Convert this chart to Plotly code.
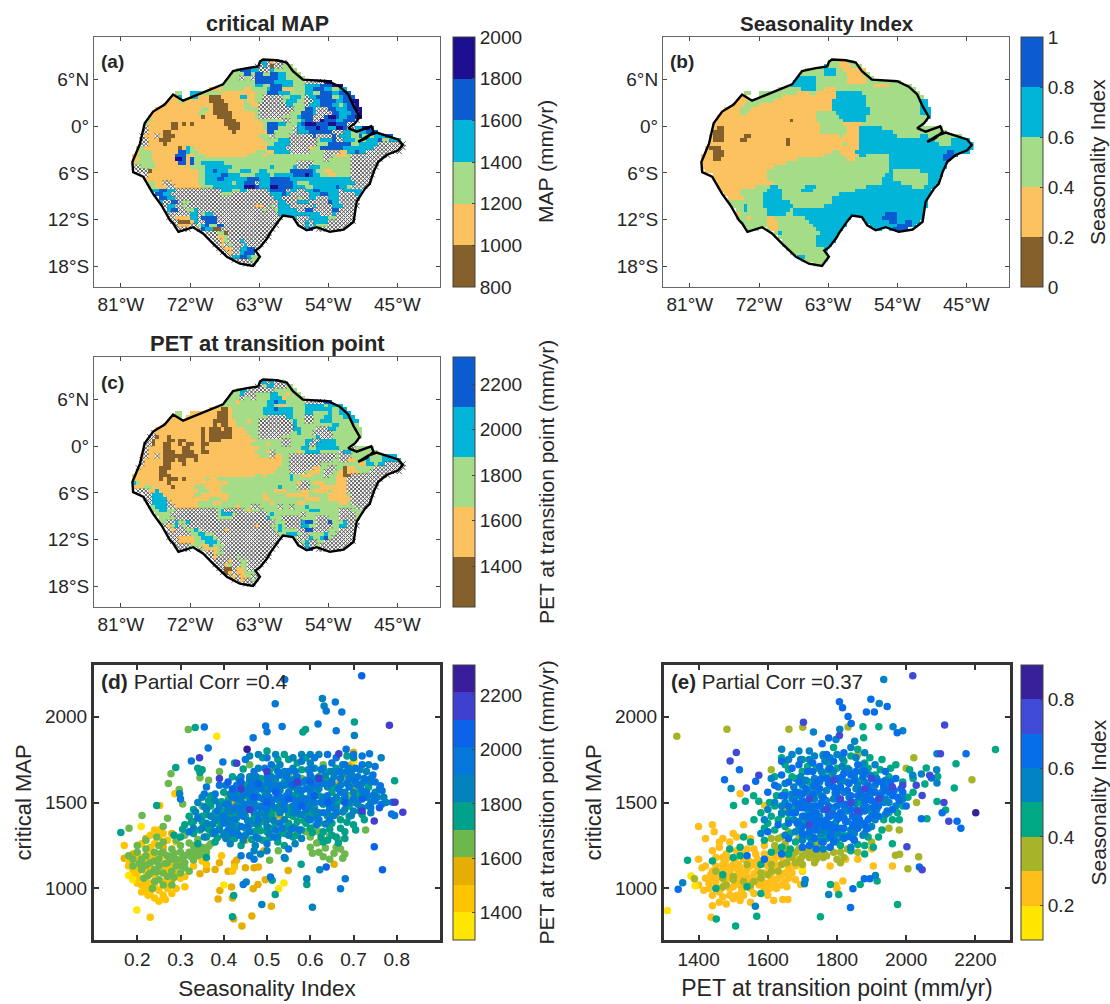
import plotly.graph_objects as go

# ---------- map grids: 0.5 degree cells, run-length rows "start-column + class" ----------
# b brown, o orange, g green, c cyan, u blue, n navy, x not significant (hatched), . outside
LON_WEST = -80.0
LAT_NORTH = 8.5
CELL = 0.5
N_COLS = 72

map_critical = [
"34c 36x 37o 38x 41.", "33x 35c 36x 37b 38x 40g 43.", "28g 29u 32c 34x 37c 38g 44.",
"27g 30u 32g 33u 35g 37u 39c 41g 45.", "26g 29x 30g 32x 33u 39c 41g 46.", "25g 33u 38c 43g 46x 51n 53.",
"24g 33c 35g 37u 40c 43g 46c 50u 53n 56.", "21o 24g 30o 32g 36c 37u 40o 43g 46c 48u 51c 53g 55c 57.",
"12g 14. 16c 19g 22g 24o 33g 36u 39c 42g 46c 48g 50u 53c 55u 58.",
"11o 13c 14. 16c 18o 21b 24o 29c 31o 33g 35x 40g 42c 45g 46x 47c 49u 53g 55c 56u 59.",
"10o 13g 15o 21b 25o 30g 31o 33g 35x 40g 41c 44g 46x 48c 50u 54c 56u 58n 60.",
"9o 22b 26o 30g 32o 34x 41c 43g 46x 47c 50u 53c 55g 56c 57u 59n 60.",
"7o 19g 21o 22b 26o 30g 33g 34x 42x 43g 46u 48c 49x 52u 54c 57u 59n 61.",
"6o 18g 20o 22b 27o 33g 34x 41x 42g 45u 48c 49x 52x 53u 55c 58u 60n 61.",
"5o 19b 20o 23b 27o 33g 34x 40g 44c 45u 48x 51u 52n 54u 55c 57u 59n 61.",
"5g 6o 25b 28o 34g 40x 42g 45c 46u 48x 50n 51u 54c 56u 59x 60.",
"4g 5o 11b 13o 14b 15o 16b 17o 25b 26b 29o 35g 36u 39c 41g 44c 45u 46n 49u 52n 54u 57x 59.",
"4x 5o 11b 13o 26b 29o 35g 36u 39g 43x 44c 46u 49n 50u 52c 54n 56u 57x 59c 61n 63u 64.",
"4x 5o 9b 11o 27b 28o 36u 38g 43x 44c 47u 53x 55x 56c 58g 60c 62u 65.",
"3x 4o 7x 8o 9b 12o 34g 37x 38g 42x 48u 49x 53u 54x 55c 58g 60u 61g 64c 67u 69.",
"3x 5o 8b 11o 35g 39c 42x 49g 50c 53u 54x 56c 59g 62c 65u 66g 68c 71.",
"3x 5o 9b 10o 35o 36g 38c 42x 49g 52u 58g 60c 65x 72.",
"2g 4o 13b 14o 15c 16g 17o 35o 36c 41x 47o 48g 50u 56c 60c 64x 72.",
"2o 3g 6o 13u 15c 16g 18o 33g 36o 38c 42x 47g 51x 53x 55o 57c 59u 60c 62x 71.",
"1o 2g 6o 12u 15o 17g 20o 31g 35o 36g 51x 53g 54o 57g 58x 68.",
"1o 3g 6o 12n 14u 15o 16u 17g 30g 51x 52g 58x 66.",
"1o 2g 7o 13u 15o 16u 17g 19c 25g 38g 44x 48g 58x 65.",
"1x 3g 7o 16g 20c 27g 35g 37c 38g 43c 44x 47c 50g 58x 65.",
"2x 5b 6o 18g 20c 22u 23c 26g 29c 32g 34c 36g 42u 48c 49g 51o 53g 58x 64.",
"4x 5o 18g 20c 24u 26c 29g 33c 37g 38c 43u 46n 47u 48c 50g 52o 54g 58x 64.",
"4o 18g 20c 23u 25c 31u 34c 37u 42c 58x 63.",
"5g 7o 9x 11o 18g 20c 27g 28c 30u 33x 34c 37u 43c 44g 47c 58c 59x 63.",
"5g 7o 10x 12o 19g 22c 30n 33u 34c 37n 39u 43c 46g 48c 54u 55c 57g 58x 62.",
"6c 8u 10c 12x 24c 27g 29c 31x 36c 37u 41x 42c 44x 46c 48u 50c 55x 56c 61.",
"7u 9c 11x 24g 27x 36x 37c 40u 41c 42x 45x 47c 50u 52c 55x 59c 61.",
"8u 10c 12x 37x 38c 40x 44g 45x 47c 49x 52c 55x 60.",
"8c 9x 11u 13x 14g 16x 37x 39c 41x 44c 47x 49x 52u 53c 55x 60.",
"9x 10c 12x 14g 15x 33o 35x 37g 38x 39c 42x 48c 49x 53c 56x 60.",
"10c 11u 13x 15g 17c 18x 35g 36x 38g 39c 44x 46u 48x 53u 55x 59.",
"10x 13x 16c 18x 19g 20c 22x 39c 45c 47c 50x 53c 54x 59.",
"10x 12o 16c 18x 19u 23x 40. 43c 44x 47c 50c 52g 54x 59.",
"11x 13b 16o 17c 18x 20u 23x 39. 44x 46c 47x 48c 51c 52x 59.",
"12x 13o 16x 18g 19c 20u 21g 23u 25x 39. 45x 46c 47x 48c 49g 52x 57.",
"13x 16. 18x 19u 20c 22b 24x 38. 46c 47u 48. 49x 55.",
"20x 23g 25b 26x 37.", "21x 23o 25g 26x 37.", "22x 24o 25g 26x 29c 30x 36.",
"22x 24o 25x 26g 27x 30c 31x 35.", "23x 25o 27x 29c 31u 33x 34.", "24x 26o 27x 29c 30u 33.",
"26x 27c 29u 31c 32g 34.", "27x 32g 34.", "30x 33.",
]

map_seasonality = [
"34g 37o 39g 41.", "33c 34g 37o 40g 43.", "28g 32g 33c 36g 38o 42o 44.", "27g 33c 36g 39o 43g 45.",
"26c 31g 39o 44g 46.", "25c 31g 39o 44g 53.", "24c 31g 46o 50g 56.", "21g 27c 31g 33o 36g 57.",
"12g 14. 16g 26o 29g 31o 36c 43g 58.", "11o 13. 16g 22o 35o 36c 44g 59.", "10o 13g 16g 20o 34o 35c 44g 58c 60.",
"9o 12g 16o 35c 44g 58c 60.", "7o 11g 14o 33o 35c 45g 58c 61.", "6o 11g 13o 31g 36c 45g 58c 61.",
"5o 31g 37c 44g 60c 61.", "5o 24b 25o 31g 38c 44g 60.", "4o 32g 38o 41o 43g 59.", "4o 5b 7o 32g 39o 42c 48g 64.",
"4b 7o 32g 39o 42c 49c 51g 65.", "3o 4b 7o 12b 14o 37g 38o 42c 52g 58c 60g 69.",
"3o 4b 7o 11b 13o 23b 24o 39o 42c 52c 62g 66c 71.", "3o 23b 24o 38g 39o 42c 62c 63g 66c 72.",
"2o 3b 6o 38o 42c 72.", "2o 4b 7o 33o 35g 37o 41c 65u 67c 71.", "1o 4b 7o 30o 33g 38o 42c 44g 50c 64u 68.",
"1o 4b 6o 26g 38g 39o 41g 50c 64u 66.", "1o 23g 50c 65.", "1o 20g 50c 65.", "2o 18g 50c 51g 58c 64.",
"4o 18g 49c 51g 60c 64.", "4o 18g 48c 51g 60c 63.", "5o 20g 48c 53g 60c 63.",
"5o 15g 19c 21g 28c 31g 44c 56g 59c 62.", "6o 11g 18c 22g 27c 30g 41c 61.", "7o 11g 17c 22g 37c 61.",
"8o 12g 17c 22g 33g 35c 60.", "8g 17c 24g 35c 60.", "9g 12c 13g 17c 25g 33c 60.",
"10g 12c 13g 18c 24g 25c 49c 59.", "10o 11g 18c 23g 25c 49u 52c 59.", "10g 13o 14g 18o 20g 28c 40. 43c 48u 52c 59.",
"11g 18o 21g 29c 39. 44c 50u 52c 54u 56c 58.", "12g 18o 21g 30c 39. 45c 50c 52u 56c 57.",
"13g 16. 18g 19o 21g 31c 38. 46c 48. 50c 51u 55.", "20g 21c 22g 32c 37.", "21g 31c 36.", "22g 31c 36.",
"22g 31c 35.", "23g 33c 34.", "24g 34.", "26c 28g 34.", "27g 34.", "30g 33.",
]

map_pet = [
"34c 36x 37c 38x 40g 41.", "33x 35g 36c 38x 41g 43.", "28g 29c 31x 36x 38g 44.", "27g 29c 30x 33g 37c 39g 41o 42g 45.",
"26g 29x 30g 32x 33g 37c 40o 41g 46.", "25g 28o 29g 35g 36c 38u 39c 41g 46x 51u 53.",
"24g 35g 36c 38g 39o 41g 46c 51g 52c 56.", "21o 24b 26o 27g 35c 38u 39c 43g 46c 50c 53g 55c 57.",
"12g 14. 16o 23b 26o 27g 35c 43g 46c 48g 52c 53g 55c 58.", "11o 13g 14. 15o 23b 26o 27g 35g 36x 41c 43g 46x 48g 51c 53g 56c 59.",
"10o 22b 26o 28g 31o 32g 34x 42g 43c 44g 46x 48g 50c 53g 58c 60.", "9o 22b 23o 24b 26o 28g 33g 34x 43c 44g 47g 53c 55g 60.",
"7o 16o 19b 20o 21b 24o 25b 27o 30g 34x 42x 43c 45g 49x 52c 54g 61.", "6x 7o 19b 20o 21b 25b 27o 31g 34x 41x 42g 44c 45g 48x 52x 53g 61.",
"5x 7b 8o 10b 11o 19b 20o 21b 25b 27o 32g 34x 40g 46g 49c 50x 53g 61.", "5x 6b 7o 10b 12o 13b 15o 19b 20o 21b 23b 24o 33g 40x 42g 46c 48x 50c 54g 60.",
"4x 6b 7o 9b 11o 13b 14o 15b 17o 19b 21o 32g 36o 37g 40x 42g 46c 47x 49c 54g 59.", "4x 5o 9b 11o 14b 16o 19b 20o 34g 40g 43g 45c 47g 49c 54c 55g 58x 59g 64.",
"4x 5o 9b 12o 14b 17o 19b 21o 33g 36o 37x 38g 44o 45g 46c 50g 55x 56c 58g 65.", "3o 4x 5o 7x 8o 9b 12b 14b 16b 18o 34g 37x 38o 40g 42x 48x 53x 54g 55x 58g 63g 66c 70.",
"3x 4o 9b 11b 12o 13b 15o 17b 18o 40g 42x 49x 50x 53g 55x 57o 59g 62c 63g 66c 71.", "3x 4o 9b 11o 14b 15o 40g 42x 50g 56g 60o 62c 64g 65c 67x 72.",
"2x 3o 8b 10b 11o 38o 39g 42x 48o 50g 52x 54g 56b 57o 59g 64x 72.", "2o 8b 10o 34o 38g 42x 46g 47o 50g 51x 53g 55o 56b 57o 60g 63x 71.",
"1o 8b 11o 33g 35o 36g 42c 43g 45o 48g 51x 52g 54o 56b 58x 68.", "1o 8b 9o 10b 13o 14b 15o 20g 21o 23g 30g 36g 42c 43g 54o 57x 66.",
"1c 2g 3o 9o 10b 11o 24o 26g 31g 38g 44o 45x 47g 48o 51g 54o 57x 65.", "1o 4g 6o 11b 12o 17g 20o 24g 38g 39c 40g 44x 47g 50o 57x 65.",
"2x 5o 7c 8o 18g 21o 24g 33g 38o 41g 45o 47g 48o 52g 53o 57x 64.", "4x 6c 9o 17g 19o 26g 35o 36g 41o 44o 47g 52o 57g 58x 64.",
"4x 6c 10o 21g 24o 26g 35o 37g 46o 50g 52o 58x 63.", "5x 6c 10x 11o 18g 22o 24g 37o 38g 44o 46g 55o 57g 58x 63.",
"5g 7c 10x 12o 18g 28o 29g 32x 34g 39x 40g 42x 43g 46c 47g 59x 62.", "6g 8c 10g 12x 23g 24c 25x 30g 31o 32g 34x 35g 47c 50g 55x 58g 61.",
"7g 11x 23g 24c 27g 28x 36g 37c 38g 45x 46g 55x 59g 61.", "8g 12x 23g 27x 36c 37g 40x 43x 45g 49x 52g 55x 59g 60.",
"8g 10x 12c 13g 15c 16x 38g 41x 45c 46u 48g 49x 52u 53g 56c 57x 60.", "9x 10o 11g 12c 13x 14g 15x 33o 34x 37g 39c 40g 41x 45c 47g 49x 53g 55c 57x 60.",
"10x 11o 12x 15g 17c 18g 19x 25o 26x 38g 39c 40g 44x 46u 48x 52g 55x 59.", "10x 13x 16g 18c 20g 22x 39g 41c 44g 45x 47g 51c 52g 54x 59.",
"10x 13o 17g 19c 22g 23x 40. 43g 44x 47c 48g 50c 51u 52g 53x 59.", "11x 13o 17g 20c 23g 24x 39. 44x 45g 46c 47x 49g 51x 59.",
"12x 16g 19o 21c 22g 25x 39. 45x 46c 47x 49g 50x 57.", "13x 16. 18x 19g 20o 23g 24x 38. 46c 47u 48. 49x 55.",
"20x 22o 23g 25x 37.", "21x 22o 23x 28g 29x 37.", "22x 26o 27x 29g 31x 36.", "22x 25o 26g 27x 29g 31x 35.",
"23x 25b 27x 28o 30g 31x 34.", "24x 25b 26o 27x 28o 30g 33.", "26x 27o 28x 29o 31g 32x 34.", "27x 29o 30x 32g 34.", "30x 33.",
]

basin_lon = [-63.1,-62.9,-62.5,-60.7,-59.4,-58.6,-57.3,-54,-52.5,-51.4,-50.7,-49.9,-50.5,-51.4,-50.3,-48.4,-48.1,-49,-50.1,-48.8,-47.7,-46,-44.9,-44.3,-44.9,-46.4,-47.5,-48.1,-48.6,-49.2,-50.3,-50.5,-50.7,-52,-53.8,-55.5,-56.8,-57.9,-58.6,-59.9,-60.7,-61.6,-62,-62.9,-63.5,-62.9,-63.8,-65.5,-67.2,-69,-70.3,-71.6,-72.7,-73.5,-74.2,-74.6,-75.7,-76.8,-78.1,-79.4,-79.5,-79,-78.5,-77.9,-76.8,-75.3,-74.2,-72.9,-70.3,-67.7,-66.4,-64.6,-63.1]
basin_lat = [7.7,8.3,8.6,8.5,8.2,7.1,6,5.8,5.1,4.1,2.6,1.2,0.4,-0.25,-0.7,0,-0.7,-1.5,-2,-1.2,-0.8,-1.3,-1.7,-2.4,-3.1,-3.7,-4.6,-5.9,-7.4,-8,-9.7,-11,-12.3,-13.3,-13.6,-13,-13.4,-12.75,-11.7,-11.5,-12.5,-13.8,-14.5,-15.6,-16,-16.8,-18,-17.7,-16.8,-15.1,-13.8,-13,-13.4,-13.6,-12.5,-12.1,-10.2,-8.7,-6.5,-5.9,-4.6,-3.3,-2.2,0.4,1.9,2.8,4.1,3.3,4.3,5.4,7.1,7.5,7.7]

lon_ticks = [-81, -72, -63, -54, -45]
lon_labels = ["81°W", "72°W", "63°W", "54°W", "45°W"]
lat_ticks = [6, 0, -6, -12, -18]
lat_labels = ["6°N", "0°", "6°S", "12°S", "18°S"]

# ---------- scatter (d): seasonality index, critical MAP, grouped by PET class ----------
d_pet_1350 = [(.384,1885),(.209,1360),(.199,875),(.539,1031),(.527,998),(.702,1745),(.18,1075),(.4,1020),(.19,1050)]
d_pet_1450 = [(.17,1250),(.18,1130),(.2,1060),(.21,1020),(.225,960),(.24,945),(.25,925),(.26,960),(.28,970),(.27,1000),(.23,1030),(.26,1040),(.24,1080),(.22,1100),(.27,1110),(.25,1150),(.23,1170),(.21,1180),(.24,1260),(.25,1300),(.24,1340),(.28,1070),(.3,1060),(.31,1010),(.22,1000),(.2,1090),(.19,1100),(.252,1482),(.287,1551),(.23,832),(.235,1205),(.255,1095),(.205,1120),(.29,1000),(.265,935),
 (.18,1165),(.2,1170),(.22,1160),(.23,1120),(.25,1100),(.26,1120),(.27,1060),(.29,1090),(.31,1070),(.33,1130),(.21,1140),(.19,1060),(.2,1030),(.22,1040),(.24,1020),(.25,990),(.27,1030),(.23,980),(.21,980),(.24,1180),(.26,1190),(.28,1140),(.29,1270),(.27,1280),(.26,1320),(.23,1240),(.21,1260),(.25,1340),(.23,1310),(.42,1100),(.395,1190),(.36,1140),(.425,1125),(.35,1160)]
d_pet_1550 = [(.7,1793),(.666,1610),(.62,1270),(.655,1141),(.549,1105),(.51,897),(.465,840),(.442,781),(.423,822),(.387,939),(.391,988),(.42,945),(.418,1008),(.468,998),(.479,1023),(.496,1051),(.493,1219),(.42,1490),(.425,1150),(.43,1165),(.39,1150),(.38,1110),(.36,1110),(.345,1085),(.41,1100),(.45,1120),(.47,1120),(.48,1125),(.7,1595),(.687,1650),(.66,1430),(.695,1720),(.64,1380),(.22,1290),(.26,1240),(.28,1320),(.17,1175),(.19,1200),(.3,1150),(.28,1050),(.45,1280),(.53,1420)]
d_pet_1650 = [(.318,1925),(.278,1668),(.272,1610),(.345,1644),(.365,1630),(.297,1575),(.305,1492),(.211,1425),(.27,1408),(.181,1350),(.728,1340),(.506,1164),(.526,1219),(.25,1170),(.27,1150),(.29,1170),(.31,1190),(.33,1220),(.35,1240),(.36,1210),(.33,1165),(.3,1130),(.28,1100),(.26,1090),(.24,1110),(.22,1135),(.21,1170),(.2,1210),(.22,1190),(.24,1210),(.26,1210),(.28,1230),(.3,1250),(.32,1265),(.34,1285),(.37,1320),(.34,1190),(.31,1120),(.285,1065),(.25,1050),(.235,1000),(.215,1060),(.19,1170),(.245,1300),(.26,1360),(.61,1360),(.62,1330),(.6,1300),(.59,1330),(.6,1240),(.62,1210),(.63,1185),(.645,1170),(.66,1240),(.67,1230),(.68,1200),(.39,1680),(.35,1480),(.41,1540),(.5,1450),(.52,1620),(.55,1660),(.46,1720),(.58,1640),(.57,1540),(.63,1720),(.68,1620),(.69,1540),(.56,1330),(.52,1430),
 (.2,1250),(.22,1230),(.23,1150),(.25,1130),(.27,1190),(.29,1130),(.31,1150),(.32,1210),(.34,1230),(.23,1090),(.26,1020),(.28,1020),(.3,1090),(.32,1100),(.21,1110),(.19,1130),(.18,1190),(.24,1160),(.26,1270),(.29,1280),(.31,1310),(.33,1250),(.35,1200),(.37,1260),(.27,1070),(.25,1250),(.22,1280),(.24,1040),(.3,1210),(.28,1170),
 (.245,1095),(.265,1145),(.285,1205),(.305,1175),(.325,1185),(.345,1215),(.365,1245),(.205,1145),(.225,1075),(.255,1205),(.615,1265),(.635,1235),(.655,1205),(.675,1175),(.605,1205),(.645,1305),(.665,1285)]
d_pet_1750 = [(.334,1937),(.583,1910),(.589,1925),(.425,1730),(.289,1703),(.245,1482),(.162,1325),(.702,1968),(.795,1627),(.592,1023),(.519,965),(.42,836),(.423,959),(.512,1047),(.579,1141),(.542,1174),(.34,1700),(.345,1675),(.35,1690),(.31,1370),(.33,1390),(.35,1420),(.37,1360),(.39,1350),(.41,1380),(.43,1410),(.45,1350),(.47,1330),(.49,1390),(.51,1350),(.53,1330),(.55,1380),(.57,1310),(.59,1380),(.61,1410),(.63,1330),(.65,1380),(.67,1350),(.66,1300),(.64,1280),(.68,1290),(.69,1420),(.36,1300),(.33,1320),(.3,1300),(.34,1260),(.36,1180),(.38,1270),(.41,1290),(.44,1250),(.49,1280),(.54,1250),(.43,1560),(.45,1600),(.48,1480),(.5,1530),(.53,1500),(.55,1470),(.57,1600),(.46,1520),(.41,1470),(.39,1430),(.6,1540),(.63,1490),(.65,1560),(.67,1510),(.62,1650),(.59,1760),(.54,1780),(.5,1800),(.49,1760),(.7,1500),(.72,1550),(.6,1440),(.56,1420),
 (.32,1420),(.33,1460),(.35,1390),(.36,1430),(.37,1480),(.38,1440),(.39,1390),(.40,1450),(.41,1510),(.42,1420),(.43,1370),(.44,1460),(.45,1420),(.46,1370),(.47,1410),(.48,1360),(.49,1450),(.5,1330),(.51,1430),(.52,1380),(.53,1450),(.54,1320),(.55,1430),(.56,1300),(.57,1390),(.58,1340),(.59,1440),(.6,1350),(.61,1470),(.62,1380),(.63,1270),(.64,1420),(.65,1310),(.66,1490),(.67,1400),(.68,1330),(.69,1480),(.70,1370),(.71,1530),(.72,1430),(.5,1590),(.52,1700),(.54,1620),(.56,1540),(.58,1690),(.6,1590),(.62,1540),(.64,1630),(.66,1700),(.47,1620),(.45,1540),(.43,1480),(.4,1560),(.37,1540),(.42,1650),(.55,1750),(.57,1730),(.61,1700),
 (.345,1340),(.365,1345),(.385,1295),(.405,1325),(.425,1290),(.445,1300),(.465,1285),(.485,1335),(.505,1295),(.525,1270),(.545,1355),(.565,1360),(.585,1395),(.605,1325),(.625,1300),(.645,1345),(.665,1265),(.685,1385),(.705,1340),(.725,1400),(.395,1505),(.415,1435),(.435,1540),(.455,1480),(.475,1545),(.495,1560),(.515,1465),(.535,1525),(.555,1585),(.575,1550),(.595,1490),(.615,1565),(.635,1640),(.655,1590),(.675,1665),(.695,1605),(.715,1570),(.735,1590),(.365,1510),(.325,1385),(.305,1345),(.285,1310),(.485,1640),(.505,1680),(.525,1750),(.565,1640),(.605,1640),(.645,1680),(.685,1770),(.445,1695)]
d_pet_1850 = [(.628,2105),(.632,2062),(.702,1890),(.298,1551),(.41,1450),(.44,1430),(.47,1440),(.5,1400),(.52,1470),(.54,1400),(.56,1480),(.58,1430),(.6,1480),(.62,1440),(.64,1440),(.66,1470),(.68,1460),(.7,1450),(.72,1470),(.74,1500),(.46,1650),(.48,1700),(.51,1650),(.53,1720),(.56,1700),(.58,1780),(.6,1730),(.62,1780),(.65,1680),(.67,1680),(.7,1640),(.74,1620),(.76,1580),(.38,1400),(.36,1460),(.34,1500),(.4,1310),(.43,1330),(.46,1390),(.48,1290),(.53,1570),(.47,1560),(.5,1620),(.35,1350),(.33,1350),(.38,1510),(.44,1650),(.473,1250),(.485,1200),(.54,1180),(.622,1109),(.592,1057),(.605,891),(.488,906),(.452,1037),(.764,1760),(.73,1680),(.74,1640),
 (.35,1530),(.37,1420),(.39,1480),(.41,1400),(.42,1450),(.44,1510),(.45,1450),(.46,1630),(.47,1500),(.48,1430),(.49,1600),(.5,1560),(.51,1510),(.52,1640),(.53,1440),(.54,1600),(.55,1540),(.56,1440),(.57,1570),(.58,1530),(.59,1630),(.6,1510),(.61,1450),(.62,1580),(.63,1530),(.64,1590),(.65,1470),(.66,1530),(.67,1600),(.68,1560),(.69,1500),(.7,1560),(.71,1490),(.72,1610),(.73,1530),(.74,1440),(.75,1560),(.77,1530),(.54,1680),(.56,1760),(.6,1780),(.63,1700),(.69,1700),(.7,1760),(.48,1780),(.46,1770),(.52,1780),(.36,1380),(.39,1340),(.42,1360),(.45,1310),(.5,1360),(.55,1310),(.58,1290),(.5,1220),(.47,1220),
 (.335,1445),(.355,1475),(.375,1375),(.395,1410),(.415,1365),(.435,1445),(.455,1395),(.475,1375),(.495,1425),(.515,1395),(.535,1485),(.555,1345),(.575,1430),(.595,1405),(.615,1420),(.635,1375),(.655,1425),(.675,1445),(.695,1425),(.715,1450),(.735,1480),(.755,1530),(.775,1500),(.415,1550),(.435,1635),(.455,1570),(.475,1650),(.495,1530),(.515,1610),(.535,1660),(.555,1630),(.575,1610),(.595,1690),(.615,1640),(.635,1660),(.655,1650),(.675,1720),(.695,1670),(.715,1690),(.735,1720),(.355,1300),(.375,1320),(.415,1260),(.445,1280),(.505,1320),(.525,1300),(.565,1260),(.405,1290)]
d_pet_1950 = [(.541,2215),(.519,2075),(.658,2085),(.637,2033),(.618,1957),(.673,2027),(.66,1918),(.355,1940),(.497,1945),(.5,1912),(.535,1942),(.468,1877),(.364,1817),(.325,1742),(.398,1735),(.683,1810),(.737,1783),(.681,1057),(.67,998),(.445,1023),(.508,1066),(.788,1433),(.795,1424),(.762,1597),(.766,1568),(.79,1501),(.45,1490),(.47,1470),(.49,1520),(.51,1580),(.53,1530),(.55,1560),(.57,1510),(.59,1580),(.61,1600),(.63,1610),(.65,1620),(.67,1560),(.69,1590),(.71,1600),(.73,1560),(.75,1510),(.42,1530),(.4,1420),(.43,1600),(.46,1590),(.5,1460),(.52,1340),(.56,1350),(.6,1400),(.44,1360),(.42,1320),(.38,1330),(.53,1660),(.57,1650),(.6,1660),(.66,1760),(.68,1720),(.64,1780),(.72,1720),(.34,1410),(.3,1520),(.36,1590),(.32,1330),(.46,1190),(.47,1170),(.5,1260),(.44,1190),(.55,1230),
 (.38,1550),(.41,1490),(.43,1520),(.44,1470),(.46,1550),(.47,1590),(.48,1530),(.49,1480),(.5,1650),(.51,1490),(.52,1520),(.53,1600),(.54,1460),(.55,1610),(.56,1520),(.57,1460),(.58,1570),(.59,1520),(.6,1570),(.61,1500),(.62,1610),(.63,1440),(.64,1540),(.65,1510),(.66,1440),(.67,1640),(.68,1530),(.69,1640),(.7,1520),(.71,1650),(.72,1570),(.73,1630),(.74,1470),(.75,1620),(.55,1680),(.58,1740),(.61,1760),(.65,1730),(.7,1780),(.72,1770),(.47,1680),(.5,1760),(.51,1720),(.45,1750),(.4,1380),(.41,1340),(.46,1330),(.48,1400),(.53,1380),(.54,1500),(.59,1460),(.62,1400),(.75,1710),(.39,1600),
 (.385,1450),(.405,1490),(.425,1470),(.445,1420),(.465,1510),(.485,1470),(.505,1530),(.525,1550),(.545,1540),(.565,1480),(.585,1500),(.605,1530),(.625,1500),(.645,1470),(.665,1580),(.685,1610),(.705,1620),(.725,1540),(.745,1540),(.765,1490),(.405,1600),(.425,1560),(.445,1550),(.465,1620),(.485,1580),(.505,1610),(.525,1580),(.545,1650),(.565,1680),(.585,1620),(.605,1700),(.625,1690),(.645,1610),(.665,1680),(.685,1680),(.705,1700),(.725,1640),(.745,1660),(.495,1700),(.525,1680),(.425,1400),(.455,1360),(.475,1300),(.515,1300),(.535,1350),(.575,1340),(.615,1370),(.645,1400),(.435,1310),(.355,1550)]
d_pet_2050 = [(.719,2238),(.748,1242),(.767,1109),(.637,1125),(.76,1470),(.41,1620),(.44,1620),(.48,1610),(.52,1560),(.56,1600),(.6,1620),(.64,1500),(.68,1500),(.72,1520),(.5,1500),(.47,1530),(.42,1580),(.55,1520),(.58,1480),(.61,1540)]
d_pet_2150 = [(.783,1950),(.344,1760),(.43,1728),(.666,1783),(.796,1501),(.814,1443),(.748,1392),(.39,1640),(.44,1580),(.46,1460),(.57,1620),(.62,1640),(.72,1450),(.5,1680)]
d_pet_2250 = [(.454,1810)]

# ---------- scatter (e): PET at transition point, critical MAP, grouped by seasonality class ----------
e_si_15 = [(1310,871),(1378,1072),(1390,1016),(1700,1110)]
e_si_25 = [(1591,1482),(1520,1551),(1436,832),(1817,1043),(1797,1018),(1800,998),(1695,1023),(1658,936),(1643,936),(1617,930),(1400,1360),(1440,1370),(1445,1330),(1420,1290),(1470,1290),(1460,1240),(1490,1270),(1510,1300),(1530,1370),(1550,1290),(1560,1230),(1510,1220),(1480,1200),(1450,1180),(1420,1130),(1400,1170),(1440,1100),(1470,1140),(1500,1120),(1530,1170),(1560,1150),(1590,1200),(1620,1180),(1650,1150),(1680,1170),(1600,1130),(1570,1100),(1540,1110),(1510,1070),(1480,1060),(1450,1040),(1420,1060),(1400,1020),(1415,990),(1440,960),(1470,950),(1490,1000),(1520,1020),(1550,1050),(1580,1060),(1610,1090),(1640,1080),(1670,1090),(1700,1100),(1620,1030),(1590,1000),(1560,970),(1530,960),(1500,940),(1460,920),(1440,900),(1480,910),(1520,930),(1550,920),(1600,960),(1625,1000),(1650,1040),(1465,1000),(1430,1030),(1505,1170),(1540,1230),(1590,1250),(1780,1130),(1825,1170),(1860,1170),(1905,1130),(1900,1230),(1960,1130),
 (1450,1130),(1470,1110),(1490,1090),(1510,1040),(1530,1060),(1550,1130),(1570,1050),(1590,1090),(1610,1060),(1630,1130),(1650,1090),(1660,1120),(1680,1130),(1620,1150),(1600,1170),(1570,1170),(1540,1070),(1520,1120),(1500,1140),(1480,1130),(1460,1090),(1440,1060),(1430,1000),(1460,980),(1480,1020),(1500,1010),(1525,990),(1550,1000),(1575,1020),(1600,1030),(1630,1060),(1655,1010),(1680,1050),(1510,960),(1490,960),(1535,1090),(1565,1200),(1590,1150),(1610,1130),(1640,1180),(1670,1130),(1480,1170),(1440,1220),(1410,1120),(1460,1270),(1500,1320),
 (1435,1080),(1455,1070),(1475,1040),(1495,1060),(1515,1090),(1530,1030),(1560,1085),(1585,1040),(1605,1000),(1640,1020),(1660,1060),(1610,1110),(1545,1160),(1515,1140),(1490,1110),(1450,1010),(1470,1180),(1530,1200),(1570,1130),(1625,1120)]
e_si_35 = [(1482,1926),(1337,1885),(1661,1926),(1701,1938),(1832,1939),(2022,1760),(2190,1633),(2005,1115),(1981,1199),(1969,1193),(2036,1184),(1388,1057),(1640,1300),(1610,1290),(1620,1250),(1650,1260),(1690,1230),(1720,1180),(1750,1200),(1770,1190),(1740,1170),(1700,1190),(1670,1180),(1640,1140),(1610,1100),(1580,1060),(1800,1170),(1780,1240),(1730,1240),(1690,1290),(1500,1070),(1450,1100),(1470,1010),(1560,1040),(1820,1180),(1860,1210),(1900,1270),(1950,1350),(1980,1340),(1790,1360),(1700,1680),(1610,1690),(1860,1780),(2000,1700),(2030,1500),(1650,1460),
 (1660,1190),(1680,1210),(1710,1210),(1730,1200),(1760,1180),(1790,1210),(1810,1150),(1680,1150),(1650,1230),(1630,1290),(1720,1220),(1580,1090),(1610,1140),(1700,1140),(1500,1050),(1480,1020),(1550,1020),(1630,1100),(1660,1330),
 (1735,1150),(1765,1200),(1695,1170),(1655,1150),(1625,1220),(1745,1255),(1810,1210),(1830,1230),(1600,1080),(1530,1040),(1540,1140),(1470,1060)]
e_si_45 = [(1921,1941),(1875,1941),(1877,1877),(1559,1539),(1501,1482),(1535,1508),(1574,1508),(2258,1808),(2144,1725),(2058,1701),(2091,1652),(2139,1584),(2054,1607),(2089,1506),(2114,1457),(2060,1406),(1975,906),(1916,1043),(1867,1023),(1781,1023),(1805,965),(1752,836),(1568,838),(1507,781),(1451,822),(1368,1164),(1560,1400),(1600,1380),(1620,1340),(1660,1400),(1690,1350),(1720,1300),(1760,1310),(1800,1270),(1840,1220),(1880,1250),(1920,1300),(1960,1400),(1990,1480),(2020,1560),(1680,1640),(1650,1720),(1700,1750),(1740,1700),(1780,1650),(1820,1740),(1860,1810),(1890,1700),(1930,1750),(1970,1720),(2010,1690),(1860,1500),(1900,1440),(1960,1260),(1530,1300),(1500,1180),(1470,1080),(1450,1000),(1540,1010),(1580,970),(1520,1190),(1490,1230),(1610,1210),(1660,1200),(1870,1630),(1940,1600),(1790,1820),(1680,1470),(1720,1460),(1580,1140),(1440,1160),
 (1580,1440),(1610,1420),(1620,1480),(1640,1430),(1650,1360),(1670,1470),(1700,1310),(1730,1400),(1750,1300),(1780,1320),(1810,1250),(1850,1280),(1890,1300),(1930,1340),(1950,1440),(1980,1400),(1670,1650),(1700,1680),(1720,1620),(1760,1660),(1800,1700),(1840,1770),(1880,1730),(1910,1660),(1950,1650),(1990,1620),(2020,1640),(1650,1560),(1620,1650),(1520,1240),(1550,1270),(1590,1280),(1640,1240),(1680,1270),(1760,1780),(1640,1760),
 (1590,1350),(1630,1400),(1665,1320),(1700,1380),(1735,1340),(1770,1290),(1815,1320),(1860,1255),(1905,1240),(1935,1400),(1975,1440),(2005,1530),(1625,1540),(1660,1690),(1715,1710),(1775,1730),(1830,1700),(1895,1760),(1925,1690),(1955,1700),(1605,1500),(1725,1260),(1665,1230),(1825,1300),(1880,1200)]
e_si_55 = [(1935,2215),(1922,2076),(1732,1910),(1962,1941),(1990,1918),(1808,1926),(1851,1857),(1797,1867),(1494,1582),(1776,965),(2089,1783),(2088,1691),(2044,1666),(2019,1658),(2089,1613),(1911,1076),(1706,1027),(1708,1051),(1564,897),(1354,1033),(1640,1810),(1660,1750),(1610,1640),(1630,1590),(1670,1550),(1700,1600),(1740,1560),(1780,1600),(1820,1560),(1860,1600),(1900,1560),(1940,1520),(1700,1420),(1740,1420),(1780,1450),(1820,1480),(1860,1420),(1900,1360),(1940,1430),(1720,1360),(1760,1340),(1800,1400),(1840,1340),(1880,1320),(1680,1330),(1650,1310),(1750,1480),(1790,1520),(1830,1620),(1870,1680),(1910,1720),(1760,1770),(1720,1800),(1800,1780),(1840,1820),(1880,1790),(1700,1280),(1760,1230),(1590,1400),(1650,1610),
 (1620,1500),(1650,1500),(1670,1520),(1690,1470),(1710,1500),(1730,1480),(1750,1420),(1770,1510),(1790,1470),(1810,1500),(1830,1450),(1850,1500),(1870,1530),(1890,1470),(1910,1500),(1930,1560),(1950,1500),(1970,1480),(1690,1390),(1710,1310),(1730,1300),(1750,1380),(1770,1370),(1790,1320),(1810,1350),(1830,1390),(1850,1320),(1870,1370),(1890,1350),(1910,1400),(1690,1560),(1710,1630),(1730,1590),(1750,1620),(1770,1570),(1790,1680),(1810,1620),(1850,1650),(1880,1620),(1910,1600),(1940,1630),(1670,1780),(1690,1800),(1720,1750),(1780,1760),(1640,1440),(1580,1320),(1990,1520),(1840,1240),(1800,1320),
 (1600,1460),(1640,1480),(1660,1440),(1685,1540),(1715,1460),(1735,1520),(1755,1540),(1775,1430),(1795,1550),(1815,1440),(1835,1530),(1855,1460),(1875,1470),(1895,1530),(1915,1460),(1935,1500),(1955,1590),(1675,1400),(1695,1340),(1715,1400),(1735,1360),(1755,1320),(1775,1330),(1795,1380),(1815,1300),(1835,1310),(1855,1400),(1875,1310),(1895,1410),(1675,1590),(1695,1650),(1715,1560),(1735,1640),(1755,1680),(1775,1690),(1795,1640),(1815,1710),(1835,1690),(1855,1580),(1875,1720),(1895,1660),(1915,1640),(1695,1750),(1735,1770),(1765,1740),(1815,1760),(1855,1760),(1755,1270),(1795,1280),(1725,1290)]
e_si_65 = [(1807,2086),(1816,2051),(1898,2101),(1945,2058),(1885,2027),(1908,2027),(1832,2000),(1841,1959),(1974,1906),(1776,1875),(1757,1842),(1518,1691),(1475,1633),(1565,1623),(2173,1783),(2073,1642),(2104,1441),(2147,1391),(2158,1350),(2044,1406),(2038,1125),(1895,1057),(1879,1057),(1846,998),(1839,889),(1341,996),(1640,1740),(1670,1700),(1640,1540),(1600,1560),(1680,1500),(1720,1520),(1760,1530),(1800,1560),(1840,1540),(1880,1500),(1920,1480),(1960,1540),(1730,1440),(1770,1400),(1810,1440),(1850,1380),(1890,1400),(1700,1360),(1740,1340),(1780,1300),(1820,1290),(1700,1550),(1740,1620),(1780,1700),(1820,1670),(1860,1720),(1900,1640),(1940,1680),(1660,1290),(1600,1330),(1720,1250),(1760,1270),(1640,1200),(1590,1170),(1990,1560),(1970,1640),(2000,1480),(1730,1680),(1640,1660),(1670,1440),(1540,1190),
 (1660,1480),(1680,1440),(1700,1470),(1720,1420),(1740,1480),(1760,1460),(1780,1420),(1800,1480),(1820,1410),(1840,1460),(1860,1540),(1880,1450),(1900,1510),(1920,1420),(1940,1570),(1960,1460),(1980,1510),(1700,1320),(1720,1330),(1740,1400),(1760,1390),(1780,1370),(1800,1350),(1820,1350),(1840,1300),(1860,1350),(1880,1380),(1710,1580),(1730,1550),(1750,1580),(1770,1640),(1790,1590),(1810,1590),(1830,1570),(1850,1630),(1870,1570),(1890,1600),(1910,1560),(1930,1620),(1950,1560),(1800,1640),(1840,1660),(1880,1680),(1750,1710),(1790,1740),(1660,1620),(1620,1600),(1660,1380),(1630,1370),(1690,1720),(1730,1730),(1850,1280),(1780,1240),(1740,1230),(1700,1240),
 (1650,1540),(1680,1560),(1700,1510),(1720,1480),(1740,1440),(1755,1500),(1775,1480),(1790,1430),(1805,1520),(1825,1490),(1845,1420),(1865,1440),(1885,1540),(1905,1470),(1925,1540),(1945,1450),(1965,1570),(1985,1580),(1685,1380),(1705,1420),(1725,1390),(1745,1370),(1765,1360),(1785,1340),(1805,1410),(1825,1390),(1845,1360),(1865,1400),(1885,1350),(1905,1430),(1690,1620),(1715,1680),(1735,1600),(1755,1640),(1775,1610),(1795,1560),(1815,1650),(1835,1610),(1855,1680),(1875,1650),(1895,1570),(1915,1620),(1935,1590),(1955,1620),(1975,1530),(1770,1780),(1820,1790),(1690,1480),(1735,1290),(1790,1270)]
e_si_75 = [(2019,2238),(1703,1967),(1807,1890),(2111,1951),(1509,1791),(1491,1742),(1538,1584),(1574,1658),(2099,1783),(2068,1658),(2029,1600),(2046,1541),(2109,1500),(2123,1391),(2002,1242),(2046,1109),(1720,1520),(1770,1460),(1840,1500),(1880,1580),(1920,1520),(1960,1590),(1990,1600),(1900,1640),(1790,1630),(1720,1370),(1860,1450),(1810,1520)]
e_si_85 = [(2201,1441)]

# ---------- colours / classes ----------
BAND_COLORS = {"b":"#85602a","o":"#fcc25f","g":"#a5dc87","c":"#00b5d8","u":"#0a5cd0","n":"#1c0e8f"}
BAND_ORDER = "bogcun"
PET_COLORS = ["#ffe600","#ffc400","#e6ae00","#6cb84c","#00a08a","#0283bd","#0577db","#0a62e8","#3f3fd0","#3a1d9a"]
SI_COLORS = ["#ffe600","#ffbf1a","#a8b428","#00a884","#0283c5","#056ee8","#3f4bd6","#38209b"]
INK = "#262626"
FONT = "Liberation Sans"
TICK = 19

W, H = 1110, 1004


def stepped(colors):
    n = len(colors)
    out = []
    for i, c in enumerate(colors):
        out += [[i / n, c], [(i + 1) / n, c]]
    return out


def expand(row):
    cells = ["."] * N_COLS
    tokens = row.split()
    for tok, nxt in zip(tokens, tokens[1:] + [str(N_COLS) + "."]):
        start, ch = int(tok[:-1]), tok[-1]
        stop = int(nxt[:-1])
        for i in range(start, min(stop, N_COLS)):
            cells[i] = ch
    return cells


fig = go.Figure()
layout = {}
annos = []


def side_label(text, x, y):
    annos.append(dict(text=text, x=x / W, y=1 - y / H, xref="paper", yref="paper", textangle=-90, showarrow=False,
                      xanchor="center", yanchor="middle", font=dict(family=FONT, size=21, color=INK)))


def cbar(x0, y0, y1, tickvals):
    return dict(x=x0 / W, xanchor="left", xpad=0, y=1 - y1 / H, yanchor="bottom", ypad=0,
                thickness=22, thicknessmode="pixels", len=(y1 - y0) / H, lenmode="fraction",
                outlinecolor="#444", outlinewidth=1, ticks="inside", ticklen=3, tickcolor="#444",
                tickvals=tickvals, tickfont=dict(family=FONT, size=TICK, color=INK))


def map_panel(idx, grid, x0, x1, y0, y1, zmin, zmax, nband, cb_x, title_cb, ticks, title, letter, title_x, title_size):
    xn, yn = f"x{idx}", f"y{idx}"
    step = (zmax - zmin) / nband
    z, hx, hy, xs, ys = [], [], [], [], []
    for c in range(N_COLS):
        xs.append(LON_WEST + CELL * (c + .5))
    for r, row in enumerate(grid):
        lat = LAT_NORTH - CELL * (r + .5)
        ys.append(lat)
        line = []
        for c, ch in enumerate(expand(row)):
            if ch in BAND_ORDER:
                line.append(zmin + (BAND_ORDER.index(ch) + .5) * step)
            else:
                line.append(None)
                if ch == "x":
                    hx.append(xs[c])
                    hy.append(lat)
        z.append(line)
    colors = [BAND_COLORS[k] for k in BAND_ORDER[:nband]]
    fig.add_trace(go.Heatmap(x=xs, y=ys, z=z, zmin=zmin, zmax=zmax, colorscale=stepped(colors),
                             colorbar=cbar(cb_x, y0, y1, ticks), xaxis=xn, yaxis=yn, hoverongaps=False))
    if hx:
        fig.add_trace(go.Scatter(x=hx, y=hy, mode="markers", xaxis=xn, yaxis=yn, showlegend=False,
                                 marker=dict(symbol="x-thin", size=5, line=dict(width=1, color="#5a5a5a"))))
    fig.add_trace(go.Scatter(x=basin_lon, y=basin_lat, mode="lines", xaxis=xn, yaxis=yn, showlegend=False,
                             line=dict(color="black", width=2.4)))
    common = dict(showline=True, linecolor="#666", linewidth=1, mirror="ticks", ticks="inside", ticklen=4,
                  tickcolor="#444", showgrid=False, zeroline=False,
                  tickfont=dict(family=FONT, size=TICK, color=INK))
    layout[f"xaxis{idx}"] = dict(domain=[x0 / W, x1 / W], range=[-84.5, -39.45], anchor=yn,
                                 tickvals=lon_ticks, ticktext=lon_labels, **common)
    layout[f"yaxis{idx}"] = dict(domain=[1 - y1 / H, 1 - y0 / H], range=[-20.7, 11.5], anchor=xn,
                                 tickvals=lat_ticks, ticktext=lat_labels, **common)
    annos.append(dict(text=f"<b>{title}</b>", x=title_x / W, y=1 - (y0 - 13) / H, xref="paper", yref="paper",
                      xanchor="center", yanchor="middle", showarrow=False, font=dict(family=FONT, size=title_size, color=INK)))
    annos.append(dict(text=f"<b>{letter}</b>", x=(x0 + 5) / W, y=1 - (y0 + 25) / H, xref="paper", yref="paper",
                      xanchor="left", yanchor="middle", showarrow=False, font=dict(family=FONT, size=19, color=INK)))
    side_label(title_cb, cb_x + 93 if cb_x < 500 else cb_x + 77, (y0 + y1) / 2)


def scatter_panel(idx, xv, yv, cv, x0, x1, y0, y1, xr, xticks, xtitle, cmin, cmax, colors, cb_x, cb_title, cb_ticks, label, lsize):
    xn, yn = f"x{idx}", f"y{idx}"
    fig.add_trace(go.Scatter(x=xv, y=yv, mode="markers", xaxis=xn, yaxis=yn, showlegend=False,
                             marker=dict(size=7.5, color=cv, cmin=cmin, cmax=cmax, colorscale=stepped(colors),
                                         colorbar=cbar(cb_x, y0, y1, cb_ticks), line=dict(width=0))))
    common = dict(showline=True, linecolor="#333", linewidth=3, mirror="ticks", ticks="inside", ticklen=5,
                  tickcolor="#333", tickwidth=1.5, showgrid=False, zeroline=False,
                  tickfont=dict(family=FONT, size=TICK, color=INK))
    layout[f"xaxis{idx}"] = dict(domain=[x0 / W, x1 / W], range=xr, anchor=yn, tickvals=xticks,
                                 title=dict(text=xtitle, font=dict(family=FONT, size=23 if idx == 5 else 22.5, color=INK), standoff=12), **common)
    layout[f"yaxis{idx}"] = dict(domain=[1 - y1 / H, 1 - y0 / H], range=[700, 2300], anchor=xn,
                                 tickvals=[1000, 1500, 2000],
                                 title=dict(text="critical MAP", font=dict(family=FONT, size=22, color=INK), standoff=8), **common)
    annos.append(dict(text=label, x=(x0 + 5) / W, y=1 - (y0 + 16) / H, xref="paper", yref="paper", xanchor="left", yanchor="middle",
                      showarrow=False, font=dict(family=FONT, size=lsize, color=INK)))
    side_label(cb_title, cb_x + 93 if cb_x < 500 else cb_x + 77, (y0 + y1) / 2)


map_panel(1, map_critical, 94, 440, 37, 287, 800, 2000, 6, 453, "MAP (mm/yr)", [800, 1000, 1200, 1400, 1600, 1800, 2000], "critical MAP", "(a)", 267, 21.5)
map_panel(2, map_seasonality, 663, 1009, 37, 287, 0, 1, 5, 1021, "Seasonality Index", [0, .2, .4, .6, .8, 1], "Seasonality Index", "(b)", 827, 20.5)
map_panel(3, map_pet, 94, 440, 357, 607, 1220, 2320, 5, 453, "PET at transition point (mm/yr)", [1400, 1600, 1800, 2000, 2200], "PET at transition point", "(c)", 267, 22)

d_groups = [(1550, d_pet_1550), (1450, d_pet_1450), (1350, d_pet_1350), (1650, d_pet_1650), (1750, d_pet_1750),
            (1850, d_pet_1850), (1950, d_pet_1950), (2050, d_pet_2050), (2150, d_pet_2150), (2250, d_pet_2250)]
d_si = [p[0] for _, g in d_groups for p in g]
d_map = [p[1] for _, g in d_groups for p in g]
d_pet = [v for v, g in d_groups for _ in g]
e_groups = [(.25, e_si_25), (.15, e_si_15), (.35, e_si_35), (.45, e_si_45), (.55, e_si_55), (.65, e_si_65), (.75, e_si_75), (.85, e_si_85)]
e_pet = [p[0] for _, g in e_groups for p in g]
e_map = [p[1] for _, g in e_groups for p in g]
e_si = [v for v, g in e_groups for _ in g]

scatter_panel(4, d_si, d_map, d_pet, 94, 440, 665, 940, [.1, .9], [.2, .3, .4, .5, .6, .7, .8], "Seasonality Index",
              1300, 2310, PET_COLORS, 453, "PET at transition point (mm/yr)", [1400, 1600, 1800, 2000, 2200], "<b>(d)</b> Partial Corr =0.4", 21)
scatter_panel(5, e_pet, e_map, e_si, 664, 1010, 665, 940, [1300, 2300], [1400, 1600, 1800, 2000, 2200], "PET at transition point (mm/yr)",
              .1, .9, SI_COLORS, 1021, "Seasonality Index", [.2, .4, .6, .8], "<b>(e)</b> Partial Corr =0.37", 20.5)

fig.update_layout(width=W, height=H, margin=dict(l=0, r=0, t=0, b=0, autoexpand=False), paper_bgcolor="white",
                  plot_bgcolor="white", showlegend=False, annotations=annos, font=dict(family=FONT, color=INK), **layout)
fig.write_html("out.html", config={"displayModeBar": False}, post_script="document.body.style.margin='0';")
